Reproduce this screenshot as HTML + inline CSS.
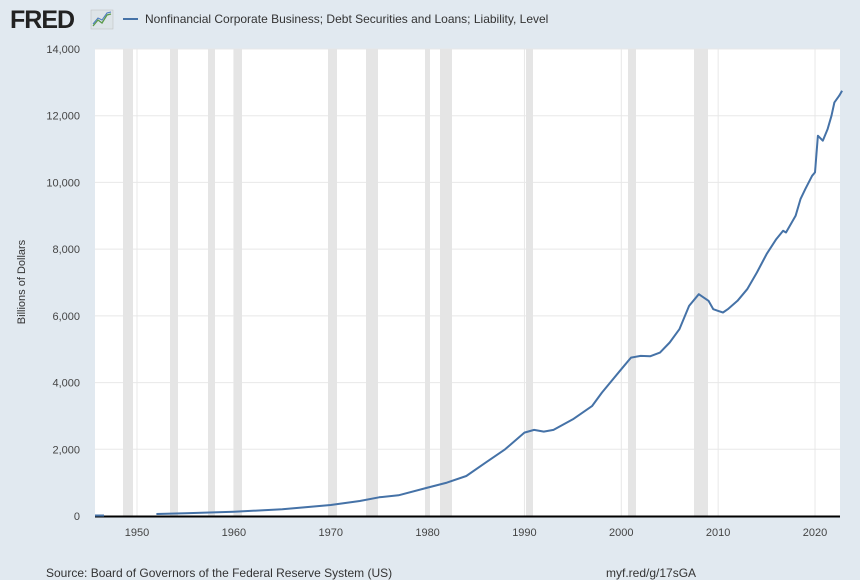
<!DOCTYPE html>
<html><head><meta charset="utf-8"><style>
html,body{margin:0;padding:0;overflow:hidden;background:#e1e9f0;font-family:"Liberation Sans",sans-serif;}
svg{display:block}
svg text{font-family:"Liberation Sans",sans-serif;}
</style></head><body>
<svg id="s" width="860" height="580" xmlns="http://www.w3.org/2000/svg">
<rect width="860" height="580" fill="#e1e9f0"/>
<text x="10" y="28" font-size="25" font-weight="bold" fill="#222" letter-spacing="-1">FRED</text>
<rect x="91" y="10" width="22" height="19" fill="#dde4e8" stroke="#bbb" stroke-width="0.5"/>
<polyline points="93,26 98,20 102,23 107,15 111,14" fill="none" stroke="#5a9a4a" stroke-width="1.3"/>
<polyline points="93,24 98,18 102,20 107,13 111,12" fill="none" stroke="#4a7abf" stroke-width="1"/>
<line x1="123" y1="19" x2="138" y2="19" stroke="#4572a7" stroke-width="2"/>
<text x="145" y="23" font-size="12" fill="#333">Nonfinancial Corporate Business; Debt Securities and Loans; Liability, Level</text>
<rect x="95" y="49" width="745" height="467" fill="#fff"/>
<g id="grid" stroke="#e8e8e8" stroke-width="1"></g>
<g id="rec" fill="#e5e5e5"></g>
<g id="lab" font-size="11" fill="#444"></g>
<line x1="95" y1="516.5" x2="840" y2="516.5" stroke="#000" stroke-width="2"/>
<text transform="translate(25,282) rotate(-90)" font-size="11" fill="#333" text-anchor="middle">Billions of Dollars</text>
<path id="ln" fill="none" stroke="#4572a7" stroke-width="2" stroke-linejoin="round"/>
<line x1="95" y1="515.5" x2="104" y2="515.5" stroke="#4572a7" stroke-width="2"/>
<text x="46" y="577" font-size="12" fill="#333">Source: Board of Governors of the Federal Reserve System (US)</text>
<text x="606" y="577" font-size="12" fill="#333">myf.red/g/17sGA</text>
</svg>
<script>
const X=y=>137+(y-1950)*9.686, Y=v=>516-v*467/14000;
const ns="http://www.w3.org/2000/svg";
function el(p,t,a,tx){const e=document.createElementNS(ns,t);for(const k in a)e.setAttribute(k,a[k]);if(tx)e.textContent=tx;document.getElementById(p).appendChild(e);}
[[123,133],[170,178],[208,215],[234,242],[328,337],[366,378],[425,430],[440,452],[526,533],[628,636],[694,708]].forEach(r=>el("rec","rect",{x:r[0],y:49,width:r[1]-r[0],height:467}));
for(let i=1;i<=7;i++){const y=Y(i*2000);el("grid","line",{x1:95,x2:840,y1:y,y2:y});}
for(let d=1950;d<=2020;d+=10){const x=X(d);el("grid","line",{x1:x,x2:x,y1:49,y2:516});el("lab","text",{x:x,y:536,"text-anchor":"middle"},String(d));}
for(let i=0;i<=7;i++){el("lab","text",{x:80,y:Y(i*2000)+4,"text-anchor":"end"},(i*2000).toLocaleString("en-US"));}
const d=[[1952,60],[1955,80],[1960,130],[1965,200],[1970,330],[1973,450],[1975,560],[1977,620],[1980,850],[1982,1000],[1984,1200],[1986,1600],[1988,2000],[1990,2500],[1991,2580],[1992,2530],[1993,2580],[1995,2900],[1997,3300],[1998,3700],[2000,4400],[2001,4750],[2002,4800],[2003,4790],[2004,4900],[2005,5200],[2006,5600],[2007,6300],[2008,6650],[2009,6450],[2009.5,6200],[2010,6150],[2010.5,6100],[2011,6200],[2012,6450],[2013,6800],[2014,7300],[2015,7850],[2016,8300],[2016.7,8550],[2017,8500],[2018,9000],[2018.5,9500],[2019,9800],[2019.7,10200],[2020,10300],[2020.3,11400],[2020.8,11250],[2021.3,11600],[2021.7,12000],[2022,12400],[2022.5,12600],[2022.8,12750]];
document.getElementById("ln").setAttribute("d","M"+d.map(p=>X(p[0]).toFixed(1)+","+Y(p[1]).toFixed(1)).join("L"));
</script>
</body></html>
